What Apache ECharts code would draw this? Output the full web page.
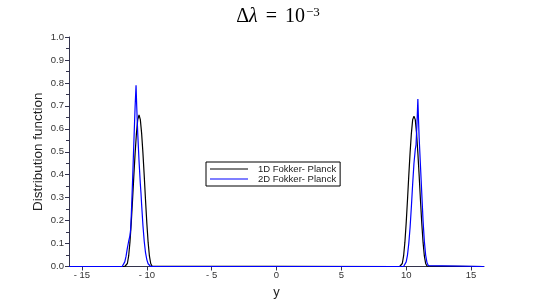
<!DOCTYPE html>
<html>
<head>
<meta charset="utf-8">
<script src="https://cdn.jsdelivr.net/npm/echarts@6/dist/echarts.min.js"></script>
<style>html,body{margin:0;padding:0;background:#fff;}#c{width:554px;height:305px;}</style>
</head>
<body>
<div id="c"></div>
<script>
const xTicks = [-15, -10, -5, 0, 5, 10, 15];
const seriesNames = ['1D Fokker- Planck', '2D Fokker- Planck'];
const black1D = [
  [-16, 0], [-11.7, 0], [-11.6, 0.002], [-11.5, 0.013], [-11.4, 0.046], [-11.3, 0.106], [-11.2, 0.19],
  [-11.1, 0.29], [-11.0, 0.396], [-10.9, 0.495], [-10.8, 0.58], [-10.7, 0.64], [-10.6, 0.66],
  [-10.5, 0.64], [-10.4, 0.58], [-10.3, 0.495], [-10.2, 0.396], [-10.1, 0.29], [-10.0, 0.19],
  [-9.9, 0.106], [-9.8, 0.046], [-9.7, 0.013], [-9.6, 0.002], [-9.5, 0],
  [9.5, 0], [9.6, 0.002], [9.7, 0.013], [9.8, 0.046], [9.9, 0.106], [10.0, 0.19], [10.1, 0.29],
  [10.2, 0.396], [10.3, 0.495], [10.4, 0.58], [10.5, 0.64], [10.6, 0.655], [10.7, 0.64],
  [10.8, 0.58], [10.9, 0.495], [11.0, 0.396], [11.1, 0.29], [11.2, 0.19], [11.3, 0.106],
  [11.4, 0.046], [11.5, 0.013], [11.6, 0.002], [11.7, 0], [16, 0]
];
const blue2D = [
  [-16, 0], [-11.9, 0], [-11.8, 0.006], [-11.7, 0.02], [-11.6, 0.045], [-11.5, 0.08], [-11.4, 0.11],
  [-11.3, 0.135], [-11.25, 0.16], [-11.2, 0.22], [-11.1, 0.37], [-11.0, 0.54], [-10.9, 0.7],
  [-10.83, 0.79], [-10.78, 0.7], [-10.7, 0.58], [-10.6, 0.46], [-10.5, 0.36], [-10.45, 0.32],
  [-10.4, 0.27], [-10.3, 0.18], [-10.2, 0.11], [-10.1, 0.06], [-10.0, 0.03], [-9.9, 0.012],
  [-9.8, 0.004], [-9.7, 0],
  [9.8, 0], [9.9, 0.005], [10.0, 0.02], [10.1, 0.05], [10.2, 0.1], [10.3, 0.17], [10.4, 0.26],
  [10.5, 0.36], [10.6, 0.45], [10.7, 0.51], [10.76, 0.53], [10.83, 0.62], [10.9, 0.73],
  [10.95, 0.64], [11.0, 0.56], [11.1, 0.44], [11.2, 0.32], [11.3, 0.2], [11.4, 0.11],
  [11.5, 0.05], [11.6, 0.018], [11.7, 0.004], [11.8, 0], [16, 0]
];

const chart = echarts.init(document.getElementById('c'), null, {renderer: 'canvas'});
const axisColor = '#33334d';
chart.setOption({
  animation: false,
  backgroundColor: '#ffffff',
  title: {
    text: '{a|Δ}{b|λ}{e| = }{a|10}{s|−3}',
    left: 273,
    textAlign: 'center',
    top: 1,
    textStyle: {
      fontWeight: 'normal',
      rich: {
        a: {fontFamily: 'Liberation Serif', fontWeight: 'normal', fontSize: 20, color: '#000'},
        e: {fontFamily: 'Liberation Serif', fontWeight: 'normal', fontSize: 20, color: '#000', padding: [0, 3, 0, 3]},
        b: {fontFamily: 'Liberation Serif', fontWeight: 'normal', fontStyle: 'italic', fontSize: 20, color: '#000'},
        s: {fontFamily: 'Liberation Serif', fontWeight: 'normal', fontSize: 13, color: '#000', verticalAlign: 'top', padding: [0, 0, 9, 1]}
      }
    }
  },
  legend: {
    left: 206,
    top: 162,
    orient: 'vertical',
    data: seriesNames.map(n => ({name: n, icon: 'rect'})),
    itemWidth: 38,
    itemHeight: 1.2,
    itemGap: 0,
    padding: [2, 4, 2, 4],
    borderColor: '#000',
    borderWidth: 1,
    textStyle: {fontFamily: 'Liberation Sans', fontSize: 9.5, lineHeight: 10, color: '#222', padding: [0, 0, 0, 5]}
  },
  grid: {left: 69, right: 70, top: 37, bottom: 38.5},
  xAxis: {
    type: 'value',
    min: -16,
    max: 16,
    name: 'y',
    nameLocation: 'middle',
    nameGap: 19,
    nameMoveOverlap: false,
    nameTextStyle: {fontFamily: 'Liberation Sans', fontSize: 13, color: '#222'},
    axisLine: {show: true, onZero: false, lineStyle: {color: axisColor, width: 1}},
    axisTick: {show: true, length: 4, customValues: xTicks, lineStyle: {color: axisColor}},
    axisLabel: {
      customValues: xTicks,
      fontFamily: 'Liberation Sans', fontSize: 9.5, color: '#333', margin: 4,
      formatter: v => v < 0 ? '- ' + (-v) : String(v)
    },
    splitLine: {show: false}
  },
  yAxis: {
    type: 'value',
    min: 0,
    max: 1,
    interval: 0.1,
    name: 'Distribution function',
    nameLocation: 'middle',
    nameGap: 24,
    nameMoveOverlap: false,
    nameTextStyle: {fontFamily: 'Liberation Sans', fontSize: 13.5, color: '#222'},
    axisLine: {show: true, onZero: false, lineStyle: {color: axisColor, width: 1}},
    axisTick: {show: true, length: 4, lineStyle: {color: axisColor}},
    minorTick: {show: true, splitNumber: 2, length: 3, lineStyle: {color: axisColor}},
    axisLabel: {
      fontFamily: 'Liberation Sans', fontSize: 9.5, color: '#333', margin: 5,
      formatter: v => v.toFixed(1)
    },
    splitLine: {show: false}
  },
  series: [
    {name: seriesNames[0], type: 'line', data: black1D, symbol: 'none', smooth: false,
     lineStyle: {color: '#000000', width: 1.2}, itemStyle: {color: '#000000'}},
    {name: seriesNames[1], type: 'line', data: blue2D, symbol: 'none', smooth: false,
     lineStyle: {color: '#0000ff', width: 1.2}, itemStyle: {color: '#0000ff'}}
  ]
});
</script>
</body>
</html>
